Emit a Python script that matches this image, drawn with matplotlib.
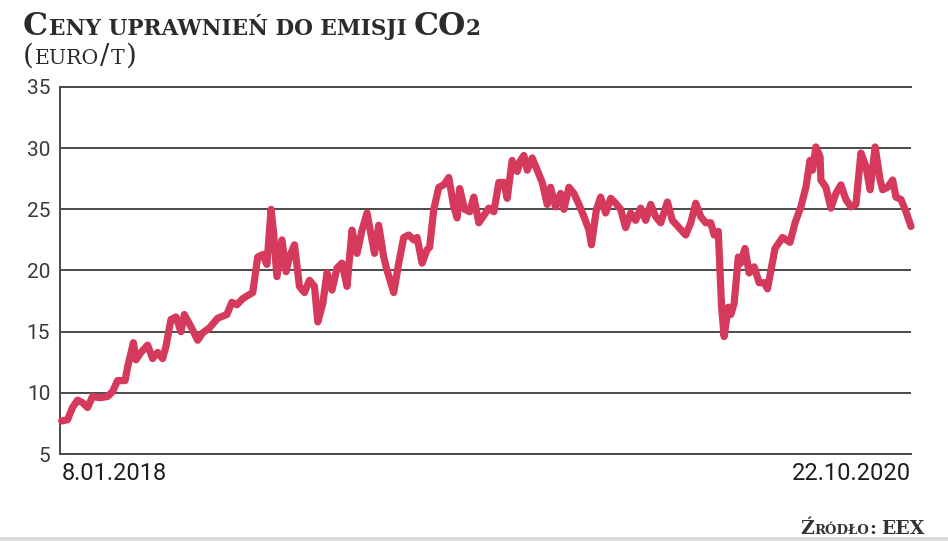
import matplotlib
matplotlib.use("Agg")
import matplotlib.pyplot as plt
from matplotlib.patches import Rectangle
import pandas as pd

# values (day offset from 8.01.2018, price in EUR/t)
start_date = "2018-01-08"
day_offsets = [0, 7, 13, 19, 25, 31, 37, 46, 55, 61, 67, 76, 79, 86, 89, 95, 103, 109, 115, 121,
               125, 131, 137, 143, 147, 155, 163, 169, 177, 187, 198, 204, 210, 217, 229, 235, 241, 246, 251, 254,
               258, 264, 269, 273, 279, 285, 291, 297, 303, 307, 313, 318, 324, 330, 336, 342, 348, 354, 360, 366,
               372, 375, 380, 386, 390, 398, 404, 410, 416, 422, 426, 432, 438, 441, 446, 452, 458, 464, 470, 474,
               477, 483, 489, 494, 500, 506, 512, 518, 524, 530, 534, 540, 546, 550, 554, 558, 564, 570, 576, 582,
               586, 592, 598, 602, 608, 614, 620, 626, 632, 635, 641, 646, 652, 658, 664, 670, 676, 682, 688, 694,
               700, 706, 712, 718, 726, 732, 740, 748, 754, 760, 766, 772, 778, 782, 787, 789, 791, 794, 799, 802,
               806, 811, 814, 819, 824, 830, 836, 842, 846, 855, 864, 873, 879, 886, 892, 897, 900, 904, 909, 910,
               916, 922, 928, 934, 940, 946, 952, 958, 964, 969, 975, 981, 984, 990, 996, 1000, 1006, 1012, 1018]
prices = [7.7, 7.8, 8.8, 9.4, 9.2, 8.8, 9.7, 9.6, 9.7, 10.1, 11.0, 11.0, 12.1, 14.1, 12.7, 13.3, 13.9, 12.8, 13.3, 12.8,
          13.8, 16.0, 16.2, 15.0, 16.4, 15.4, 14.3, 14.9, 15.3, 16.1, 16.4, 17.4, 17.2, 17.7, 18.2, 21.1, 21.3, 20.5, 25.0, 23.1,
          19.5, 22.5, 19.9, 21.1, 22.1, 18.7, 18.2, 19.2, 18.7, 15.8, 17.3, 19.8, 18.4, 20.2, 20.6, 18.7, 23.3, 21.4, 23.3, 24.7,
          22.5, 21.4, 23.7, 21.1, 20.0, 18.2, 20.6, 22.7, 22.9, 22.5, 22.7, 20.6, 21.7, 21.9, 25.0, 26.8, 27.0, 27.6, 25.2, 24.3,
          26.7, 25.0, 24.8, 26.0, 23.9, 24.5, 25.1, 24.8, 27.2, 27.2, 25.9, 29.0, 28.1, 29.0, 29.4, 28.2, 29.2, 28.2, 27.2, 25.4,
          26.8, 25.2, 26.3, 25.0, 26.8, 26.3, 25.4, 24.4, 23.3, 22.1, 25.0, 26.0, 24.7, 25.9, 25.5, 25.0, 23.5, 24.7, 24.1, 25.1,
          24.1, 25.4, 24.4, 23.9, 25.6, 24.1, 23.5, 22.9, 23.9, 25.5, 24.4, 23.9, 23.9, 22.9, 23.2, 20.0, 17.0, 14.6, 17.0, 16.4,
          17.3, 21.1, 20.6, 21.8, 19.8, 20.3, 19.0, 19.0, 18.5, 21.8, 22.7, 22.3, 23.9, 25.2, 26.8, 29.0, 28.2, 30.1, 29.3, 27.4,
          26.8, 25.1, 26.3, 27.0, 25.8, 25.2, 25.4, 29.6, 28.5, 26.6, 30.1, 27.4, 26.6, 26.8, 27.4, 26.0, 25.8, 24.8, 23.6]
x_labels = ["8.01.2018", "22.10.2020"]
y_ticks = [5, 10, 15, 20, 25, 30, 35]

RED = "#d5395b"
GRID = "#4a4a4a"
INK = "#2b2b2b"

plt.rcParams["font.family"] = ["Roboto", "DejaVu Sans"]

W, H = 948, 541
fig = plt.figure(figsize=(W / 100, H / 100), dpi=100)
fig.patch.set_facecolor("white")
ax = fig.add_axes([60 / W, 1 - 454 / H, (911 - 60) / W, (454 - 87) / H])

dates = pd.Timestamp(start_date) + pd.to_timedelta(day_offsets, unit="D")
ax.plot(dates, prices, color=RED, lw=5.2, solid_joinstyle="round",
        solid_capstyle="round", zorder=3, clip_on=False)

ax.set_ylim(5, 35)
ax.set_xlim(dates[0] - pd.Timedelta(days=2), dates[-1])
ax.set_yticks(y_ticks)
ax.yaxis.grid(True, color=GRID, lw=1.4)
ax.set_axisbelow(True)
for s in ["top", "bottom", "left"]:
    ax.spines[s].set_color(GRID)
    ax.spines[s].set_linewidth(1.4)
ax.spines["right"].set_visible(False)
ax.tick_params(axis="y", length=0, pad=7, labelsize=15, labelcolor="#3a3a3a")

ax.set_xticks([dates[0], dates[-1]], x_labels)
ax.tick_params(axis="x", length=0, pad=6, labelsize=17, labelcolor="#1e1e1e")
xl = ax.get_xticklabels()
xl[0].set_ha("left")
xl[1].set_ha("right")

renderer = fig.canvas.get_renderer()


def rich(pieces, x, y, align="left", family="DejaVu Serif", color=INK):
    # pieces: (text, size, weight, gap_after_px); x,y in pixels from top-left, y = baseline
    objs = []
    total = 0
    for s, size, weight, gap in pieces:
        t = fig.text(0, 1 - y / H, s, fontsize=size, fontweight=weight,
                     family=family, color=color, va="baseline", ha="left")
        w = t.get_window_extent(renderer).width
        objs.append((t, total))
        total += w + gap
    x0 = x if align == "left" else x - total
    for t, off in objs:
        t.set_x((x0 + off) / W)


# title in small caps
big, small = 22.6, 15.6
rich([("C", big, "bold", 1), ("ENY UPRAWNIEŃ DO EMISJI", small, "bold", 7),
      ("CO", big, "bold", -1), ("2", small, "bold", 0)], 23, 35)
rich([("(", 20, "normal", 1), ("EURO", 14.8, "normal", 1), ("/", 20, "normal", 1),
      ("T", 14.8, "normal", 1), (")", 20, "normal", 0)], 23, 64)

# source
rich([("Ź", 13.5, "bold", 0.5), ("RÓDŁO", 9.5, "bold", 0.5), (":", 13.5, "bold", 5),
      ("EEX", 13.5, "bold", 0)], 925, 534, align="right", color="#333333")

fig.patches.append(Rectangle((0, 0), 1, 4 / H, transform=fig.transFigure,
                             facecolor="#dcdcdc", edgecolor="none"))

fig.savefig("out.png", dpi=100)
